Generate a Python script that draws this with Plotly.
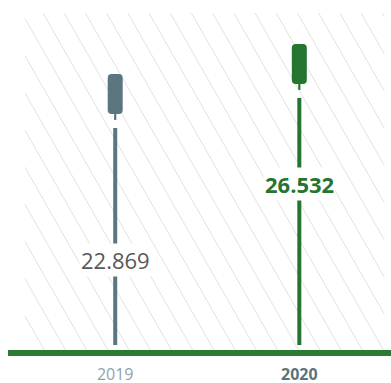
import plotly.graph_objects as go

# --- data -------------------------------------------------------------
years = ["2019", "2020"]
values = [22.869, 26.532]
value_labels = ["22.869", "26.532"]

# --- styling ------------------------------------------------------------
W, H = 391, 383
M_L, M_R, M_T, M_B = 25, 7, 13, 33
PLOT_W = W - M_L - M_R
PLOT_H = H - M_T - M_B

Y_RANGE = [-10.8, 30.3]
X_RANGE = [-0.49, 1.46]
PPU = PLOT_H / (Y_RANGE[1] - Y_RANGE[0])  # pixels per data unit

SLATE = "#5b7581"
GREEN = "#24752f"
BASE_GREEN = "#2a7a34"
HATCH = "#e2e2e2"
FONT = "Open Sans"

colors = [SLATE, GREEN]
label_styles = [
    dict(color="#585858", weight="normal", shift=-186),
    dict(color=GREEN, weight="bold", shift=-140),
]
tick_text = [
    "<span style='color:#8fa2aa'>2019</span>",
    "<span style='color:#5c727d'><b>2020</b></span>",
]

fig = go.Figure()
shapes = []

# diagonal hatch over the plot area (pixel geometry -> paper coords)
left, right, top, bottom = M_L, W - M_R, M_T, H - M_B
DXDY = 0.57
SPACING = 21.2
x_t = 43.0 - SPACING * 12
while x_t < right:
    y_a = max(top, top + (left - x_t) / DXDY)
    y_b = min(bottom, top + (right - x_t) / DXDY)
    if y_b > y_a:
        xa = x_t + DXDY * (y_a - top)
        xb = x_t + DXDY * (y_b - top)
        shapes.append(dict(
            type="line", xref="paper", yref="paper",
            x0=(xa - left) / PLOT_W, y0=(bottom - y_a) / PLOT_H,
            x1=(xb - left) / PLOT_W, y1=(bottom - y_b) / PLOT_H,
            line=dict(color=HATCH, width=1), layer="below",
        ))
    x_t += SPACING

# green baseline running past the plot area
shapes.append(dict(
    type="line", xref="paper", yref="paper",
    x0=(8 - left) / PLOT_W, x1=(W - left) / PLOT_W,
    y0=-3 / PLOT_H, y1=-3 / PLOT_H,
    line=dict(color=BASE_GREEN, width=6), layer="above",
))

CAP_PATH = ("M -7.5,-4 Q -7.5,0 -3.5,0 L 3.5,0 Q 7.5,0 7.5,-4 "
            "L 7.5,-36 Q 7.5,-40 3.5,-40 L -3.5,-40 Q -7.5,-40 -7.5,-36 Z")

for i, (yr, v, c) in enumerate(zip(years, values, colors)):
    stem_top = v - 54 / PPU
    stem_bottom = Y_RANGE[0] + 5 / PPU
    fig.add_trace(go.Scatter(
        x=[i, i], y=[stem_bottom, stem_top], mode="lines",
        line=dict(color=c, width=4), hoverinfo="skip", showlegend=False,
    ))
    # rounded cap sitting at the value
    shapes.append(dict(
        type="path", xref="x", yref="y",
        xsizemode="pixel", ysizemode="pixel", xanchor=i, yanchor=v,
        path=CAP_PATH, fillcolor=c, line=dict(width=0), layer="above",
    ))
    # thin stub under the cap
    shapes.append(dict(
        type="rect", xref="x", yref="y",
        xsizemode="pixel", ysizemode="pixel", xanchor=i, yanchor=v,
        x0=-1.1, x1=1.1, y0=-46, y1=-39,
        fillcolor=c, line=dict(width=0), layer="above",
    ))

annotations = []
for i, (v, txt, st) in enumerate(zip(values, value_labels, label_styles)):
    annotations.append(dict(
        x=i, y=v, xref="x", yref="y", yshift=st["shift"],
        text=txt, showarrow=False, bgcolor="white", borderpad=1,
        font=dict(family=FONT, size=22, color=st["color"], weight=st["weight"]),
        xanchor="center", yanchor="middle",
    ))

fig.update_layout(
    width=W, height=H,
    margin=dict(l=M_L, r=M_R, t=M_T, b=M_B, autoexpand=False),
    paper_bgcolor="white", plot_bgcolor="white",
    shapes=shapes, annotations=annotations,
    xaxis=dict(
        range=X_RANGE, tickvals=[0, 1], ticktext=tick_text,
        showgrid=False, zeroline=False, showline=False, ticks="",
        tickfont=dict(family=FONT, size=16), ticklabelstandoff=13,
        automargin=False, fixedrange=True,
    ),
    yaxis=dict(
        range=Y_RANGE, visible=False, showgrid=False, zeroline=False,
        automargin=False, fixedrange=True,
    ),
)

fig.write_html("out.html", config={"displayModeBar": False})
